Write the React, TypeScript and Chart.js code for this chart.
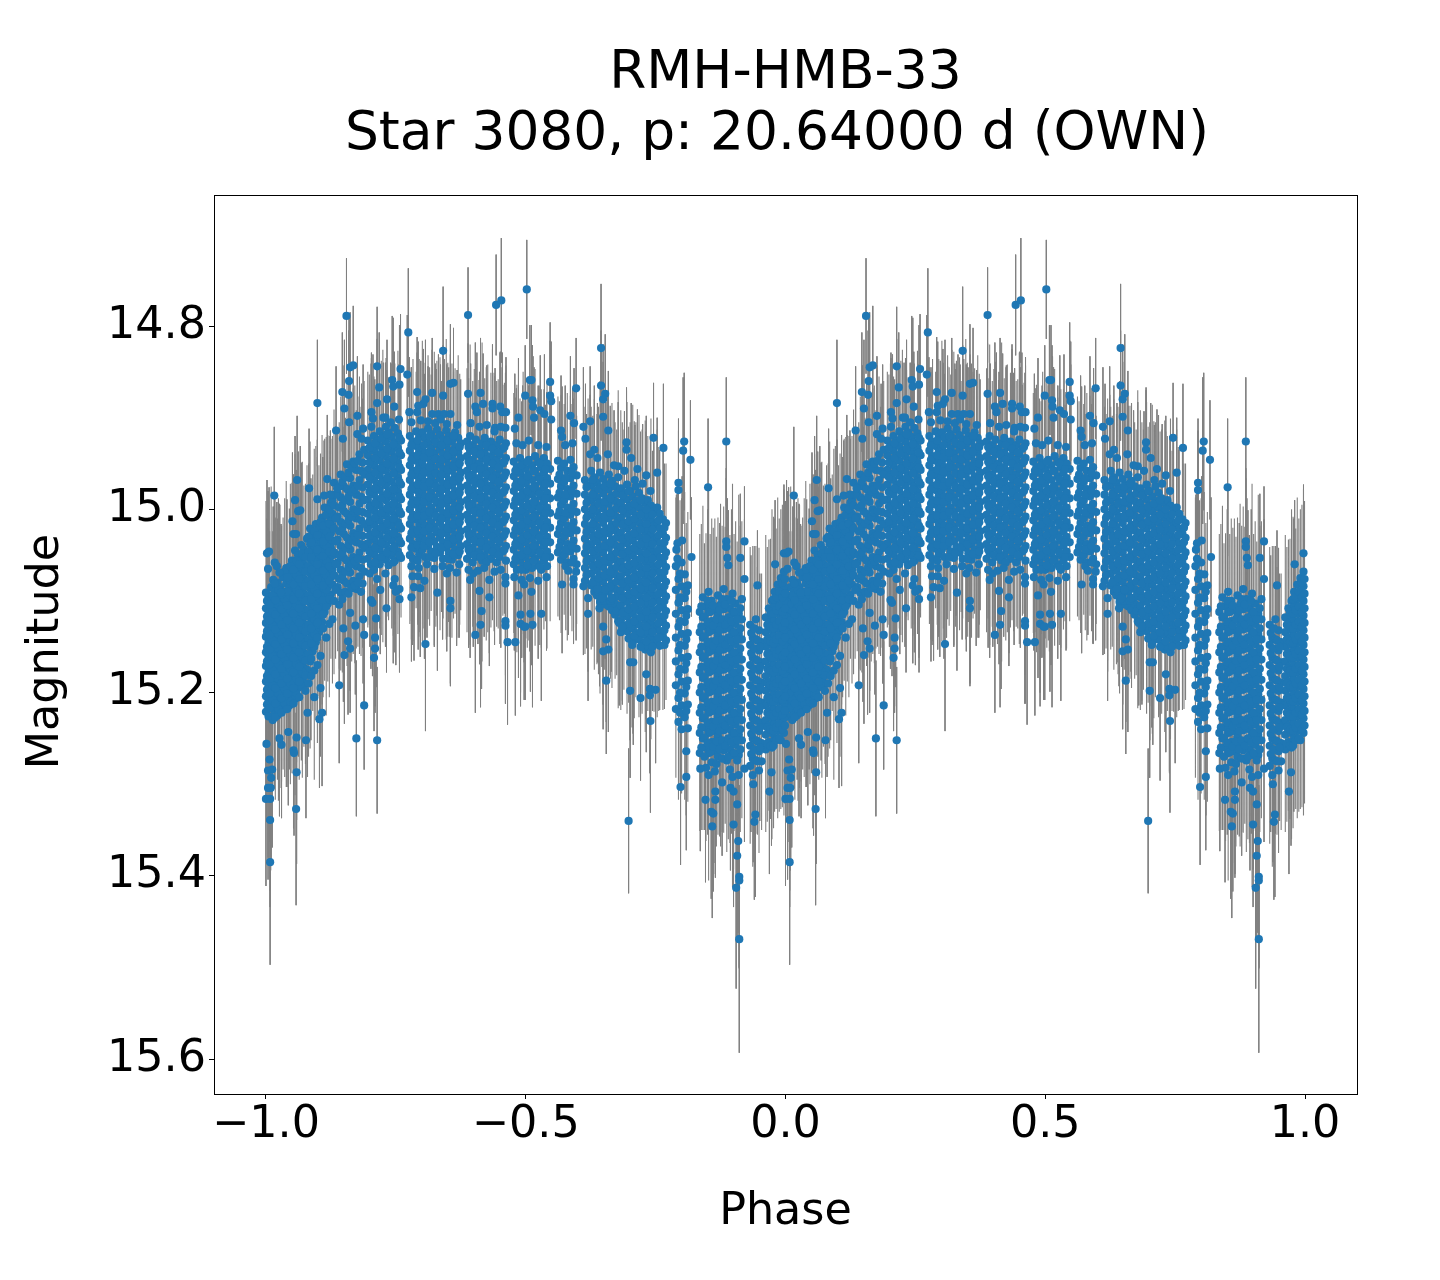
import React, { useEffect, useRef } from "react";
import { Chart, registerables } from "chart.js";

Chart.register(...registerables);

const titleLines = ["RMH-HMB-33", "Star 3080, p: 20.64000 d (OWN) "];
const xLabel = "Phase";
const yLabel = "Magnitude ";
const xTickValues = [-1.0, -0.5, 0.0, 0.5, 1.0];
const yTickValues = [14.8, 15.0, 15.2, 15.4, 15.6];
const foldShifts = [0, 1];

// Rows: [phase, magnitude error, ...magnitudes]
const riseColumns = [
  [-1.0, 0.1, 15.091, 15.108, 15.124, 15.139, 15.156, 15.171, 15.188, 15.204, 15.221],
  [-0.995, 0.075, 15.096, 15.113, 15.129, 15.145, 15.161, 15.178, 15.193, 15.209, 15.226],
  [-0.99, 0.11, 15.085, 15.102, 15.118, 15.134, 15.151, 15.166, 15.182, 15.199, 15.214],
  [-0.984, 0.085, 15.09, 15.107, 15.123, 15.139, 15.155, 15.172, 15.187, 15.203, 15.22],
  [-0.978, 0.07, 15.08, 15.096, 15.112, 15.128, 15.145, 15.16, 15.177, 15.193, 15.209, 15.225],
  [-0.973, 0.09, 15.085, 15.101, 15.117, 15.134, 15.149, 15.166, 15.182, 15.198, 15.214],
  [-0.967, 0.065, 15.074, 15.09, 15.107, 15.123, 15.139, 15.154, 15.171, 15.187, 15.203, 15.219],
  [-0.961, 0.095, 15.064, 15.081, 15.096, 15.112, 15.129, 15.145, 15.16, 15.176, 15.193, 15.208],
  [-0.955, 0.07, 15.069, 15.085, 15.101, 15.118, 15.134, 15.15, 15.165, 15.182, 15.197, 15.214],
  [-0.95, 0.085, 15.056, 15.073, 15.089, 15.106, 15.122, 15.137, 15.154, 15.17, 15.186, 15.203],
  [-0.944, 0.105, 15.045, 15.061, 15.078, 15.094, 15.11, 15.126, 15.142, 15.158, 15.174, 15.19, 15.207],
  [-0.938, 0.075, 15.05, 15.066, 15.083, 15.099, 15.115, 15.131, 15.147, 15.163, 15.179, 15.195],
  [-0.932, 0.09, 15.039, 15.055, 15.071, 15.088, 15.104, 15.12, 15.136, 15.152, 15.168, 15.184],
  [-0.927, 0.07, 15.044, 15.06, 15.076, 15.092, 15.109, 15.125, 15.14, 15.157, 15.173, 15.189],
  [-0.921, 0.08, 15.032, 15.048, 15.065, 15.081, 15.097, 15.113, 15.13, 15.146, 15.162, 15.175],
  [-0.915, 0.095, 15.021, 15.038, 15.054, 15.07, 15.086, 15.102, 15.118, 15.134, 15.15, 15.166],
  [-0.91, 0.065, 15.027, 15.043, 15.059, 15.075, 15.092, 15.108, 15.124, 15.139, 15.155],
  [-0.904, 0.085, 15.016, 15.032, 15.048, 15.064, 15.08, 15.097, 15.113, 15.128, 15.145],
  [-0.898, 0.07, 15.022, 15.038, 15.054, 15.07, 15.086, 15.102, 15.118, 15.134],
  [-0.892, 0.09, 15.009, 15.026, 15.043, 15.059, 15.075, 15.091, 15.107, 15.123],
  [-0.887, 0.075, 14.998, 15.015, 15.031, 15.047, 15.064, 15.08, 15.096, 15.112],
  [-0.881, 0.085, 15.004, 15.02, 15.037, 15.053, 15.069, 15.085, 15.103],
  [-0.875, 0.07, 14.993, 15.01, 15.026, 15.042, 15.058, 15.074, 15.093],
];

const riseFill = [
  [-0.998, 0.09, 15.1, 15.117, 15.133, 15.15, 15.166, 15.182, 15.197, 15.213],
  [-0.987, 0.07, 15.094, 15.111, 15.127, 15.143, 15.16, 15.175, 15.192, 15.208, 15.23],
  [-0.976, 0.1, 15.088, 15.104, 15.12, 15.136, 15.152, 15.169, 15.185, 15.201, 15.218],
  [-0.964, 0.08, 15.068, 15.098, 15.115, 15.131, 15.147, 15.163, 15.18, 15.196, 15.212],
  [-0.953, 0.09, 15.062, 15.078, 15.094, 15.11, 15.126, 15.142, 15.158, 15.174, 15.19, 15.21],
  [-0.941, 0.075, 15.056, 15.072, 15.088, 15.104, 15.12, 15.137, 15.153, 15.169, 15.185, 15.201],
  [-0.93, 0.1, 15.048, 15.064, 15.08, 15.096, 15.113, 15.129, 15.145, 15.161, 15.177, 15.193],
  [-0.918, 0.08, 15.03, 15.046, 15.062, 15.078, 15.094, 15.11, 15.126, 15.142, 15.158, 15.19],
  [-0.907, 0.09, 15.024, 15.04, 15.056, 15.072, 15.088, 15.104, 15.12, 15.136, 15.15, 15.176, 15.205],
  [-0.895, 0.075, 15.014, 15.03, 15.046, 15.062, 15.078, 15.094, 15.11, 15.126, 15.16, 15.195],
  [-0.884, 0.085, 15.006, 15.024, 15.04, 15.056, 15.072, 15.088, 15.106, 15.14],
  [-0.872, 0.07, 14.99, 15.005, 15.018, 15.034, 15.05, 15.066, 15.082, 15.12],
];

const riseExtra = [
  [-0.993, 0.08, 15.104, 15.121, 15.137, 15.153, 15.169, 15.185, 15.201, 15.217],
  [-0.982, 0.09, 15.099, 15.115, 15.131, 15.147, 15.164, 15.18, 15.195, 15.212, 15.227],
  [-0.97, 0.075, 15.093, 15.109, 15.126, 15.142, 15.158, 15.174, 15.19, 15.206, 15.222],
  [-0.959, 0.085, 15.074, 15.09, 15.105, 15.121, 15.137, 15.153, 15.169, 15.185, 15.201, 15.218],
  [-0.947, 0.07, 15.066, 15.082, 15.098, 15.114, 15.13, 15.146, 15.162, 15.178, 15.195, 15.212],
  [-0.936, 0.09, 15.06, 15.076, 15.092, 15.108, 15.124, 15.14, 15.156, 15.172, 15.188, 15.205],
  [-0.924, 0.08, 15.052, 15.068, 15.084, 15.1, 15.117, 15.133, 15.149, 15.165, 15.181, 15.198],
  [-0.913, 0.07, 15.036, 15.052, 15.066, 15.082, 15.098, 15.114, 15.13, 15.146, 15.163, 15.182],
  [-0.901, 0.085, 15.028, 15.044, 15.06, 15.076, 15.092, 15.108, 15.124, 15.14, 15.17],
  [-0.89, 0.075, 15.018, 15.035, 15.051, 15.067, 15.083, 15.099, 15.115, 15.13],
  [-0.878, 0.08, 15.0, 15.016, 15.03, 15.046, 15.062, 15.078, 15.098, 15.125],
];

const shoulderColumns = [
  [-0.869, 0.08, 14.971, 14.996, 15.021, 15.047, 15.072, 15.1],
  [-0.862, 0.07, 14.983, 15.008, 15.033, 15.058, 15.085],
  [-0.856, 0.085, 14.962, 14.987, 15.014, 15.04, 15.066, 15.091],
  [-0.85, 0.065, 14.975, 15.002, 15.027, 15.053, 15.078],
  [-0.844, 0.09, 14.951, 14.978, 15.005, 15.031, 15.056, 15.081],
  [-0.838, 0.07, 14.966, 14.992, 15.018, 15.044, 15.069],
  [-0.832, 0.08, 14.948, 14.974, 15.0, 15.026, 15.052, 15.078],
  [-0.826, 0.065, 14.957, 14.984, 15.01, 15.036, 15.062, 15.087],
  [-0.82, 0.085, 14.94, 14.968, 14.994, 15.021, 15.047, 15.073],
  [-0.814, 0.07, 14.949, 14.976, 15.003, 15.029, 15.055, 15.081],
  [-0.804, 0.075, 14.925, 14.941, 14.957, 14.973, 14.989, 15.005, 15.021, 15.037, 15.054],
  [-0.798, 0.09, 14.931, 14.947, 14.963, 14.98, 14.996, 15.012, 15.028, 15.044, 15.06],
  [-0.792, 0.065, 14.92, 14.936, 14.952, 14.968, 14.984, 15.001, 15.017, 15.033, 15.049, 15.066],
  [-0.787, 0.085, 14.926, 14.942, 14.958, 14.974, 14.99, 15.006, 15.023, 15.039, 15.055],
  [-0.781, 0.07, 14.915, 14.931, 14.947, 14.963, 14.979, 14.996, 15.012, 15.028, 15.044, 15.06],
  [-0.775, 0.095, 14.921, 14.937, 14.953, 14.969, 14.985, 15.002, 15.018, 15.034, 15.05],
  [-0.769, 0.075, 14.91, 14.926, 14.942, 14.958, 14.974, 14.99, 15.007, 15.023, 15.039, 15.055],
  [-0.764, 0.06, 14.916, 14.932, 14.948, 14.964, 14.98, 14.996, 15.012, 15.028, 15.045, 15.061],
  [-0.758, 0.08, 14.921, 14.937, 14.953, 14.97, 14.986, 15.002, 15.018, 15.034, 15.05],
  [-0.752, 0.07, 14.911, 14.927, 14.943, 14.959, 14.975, 14.991, 15.007, 15.024, 15.04, 15.056],
  [-0.746, 0.09, 14.917, 14.933, 14.949, 14.965, 14.981, 14.997, 15.014, 15.03, 15.046],
  [-0.74, 0.065, 14.925, 14.941, 14.957, 14.973, 14.989, 15.005, 15.021, 15.037, 15.053],
];

const shoulderFill = [
  [-0.866, 0.075, 14.984, 15.01, 15.035, 15.06, 15.088],
  [-0.859, 0.07, 14.975, 14.998, 15.024, 15.05, 15.076, 15.104],
  [-0.853, 0.08, 14.97, 14.995, 15.02, 15.047, 15.072, 15.098],
  [-0.847, 0.065, 14.965, 14.99, 15.016, 15.042, 15.068, 15.09],
  [-0.841, 0.07, 14.96, 14.986, 15.012, 15.038, 15.063, 15.092],
  [-0.835, 0.08, 14.955, 14.981, 15.008, 15.034, 15.06, 15.086],
  [-0.829, 0.085, 14.95, 14.978, 15.004, 15.03, 15.057, 15.083],
  [-0.823, 0.07, 14.947, 14.974, 15.002, 15.028, 15.054, 15.08],
  [-0.817, 0.07, 14.958, 14.986, 15.012, 15.038, 15.064, 15.09],
  [-0.811, 0.075, 14.935, 14.962, 14.99, 15.016, 15.042, 15.068],
  [-0.801, 0.08, 14.933, 14.949, 14.965, 14.981, 14.997, 15.013, 15.029, 15.046],
  [-0.79, 0.07, 14.928, 14.944, 14.96, 14.977, 14.993, 15.009, 15.025, 15.042, 15.058],
  [-0.778, 0.085, 14.923, 14.939, 14.955, 14.971, 14.988, 15.004, 15.02, 15.036, 15.052],
  [-0.767, 0.07, 14.918, 14.934, 14.95, 14.966, 14.983, 14.999, 15.015, 15.031, 15.047],
  [-0.755, 0.08, 14.929, 14.945, 14.961, 14.978, 14.994, 15.01, 15.026, 15.042, 15.058],
  [-0.743, 0.065, 14.922, 14.938, 14.954, 14.97, 14.986, 15.002, 15.018, 15.034, 15.05],
];

const crestColumns = [
  [-0.723, 0.075, 14.92, 14.936, 14.952, 14.968, 14.984, 15.0, 15.016, 15.032, 15.05],
  [-0.717, 0.09, 14.926, 14.942, 14.958, 14.974, 14.99, 15.006, 15.022, 15.038, 15.054],
  [-0.711, 0.065, 14.915, 14.931, 14.947, 14.963, 14.979, 14.995, 15.011, 15.027, 15.043],
  [-0.705, 0.085, 14.921, 14.937, 14.953, 14.969, 14.985, 15.001, 15.017, 15.033, 15.049],
  [-0.699, 0.1, 14.916, 14.932, 14.948, 14.964, 14.98, 14.996, 15.012, 15.028, 15.044],
  [-0.694, 0.07, 14.922, 14.938, 14.954, 14.97, 14.986, 15.002, 15.018, 15.034, 15.052],
  [-0.688, 0.08, 14.912, 14.928, 14.944, 14.96, 14.976, 14.992, 15.008, 15.024, 15.04],
  [-0.682, 0.065, 14.918, 14.934, 14.95, 14.966, 14.982, 14.998, 15.014, 15.03, 15.046],
  [-0.676, 0.095, 14.923, 14.939, 14.955, 14.971, 14.987, 15.003, 15.019, 15.035, 15.053],
  [-0.671, 0.075, 14.913, 14.929, 14.945, 14.961, 14.977, 14.993, 15.009, 15.025, 15.041],
  [-0.665, 0.085, 14.919, 14.935, 14.951, 14.967, 14.983, 14.999, 15.015, 15.031, 15.047],
  [-0.659, 0.065, 14.924, 14.94, 14.956, 14.972, 14.988, 15.004, 15.02, 15.036, 15.054],
  [-0.653, 0.1, 14.914, 14.93, 14.946, 14.962, 14.978, 14.994, 15.01, 15.026, 15.042],
  [-0.648, 0.075, 14.92, 14.936, 14.952, 14.968, 14.984, 15.0, 15.016, 15.032, 15.048],
  [-0.642, 0.085, 14.926, 14.942, 14.958, 14.974, 14.99, 15.006, 15.022, 15.038, 15.055],
  [-0.636, 0.07, 14.916, 14.932, 14.948, 14.964, 14.98, 14.996, 15.012, 15.028, 15.044],
  [-0.63, 0.09, 14.922, 14.938, 14.954, 14.97, 14.986, 15.002, 15.018, 15.034, 15.05],
  [-0.625, 0.07, 14.928, 14.944, 14.96, 14.976, 14.992, 15.008, 15.024, 15.04],
  [-0.613, 0.08, 14.926, 14.942, 14.958, 14.974, 14.99, 15.006, 15.022, 15.038, 15.054],
  [-0.607, 0.1, 14.92, 14.936, 14.952, 14.968, 14.984, 15.0, 15.016, 15.032, 15.048],
  [-0.602, 0.07, 14.93, 14.946, 14.962, 14.978, 14.994, 15.01, 15.026, 15.042, 15.058],
  [-0.596, 0.085, 14.924, 14.94, 14.956, 14.972, 14.988, 15.004, 15.02, 15.036, 15.052],
  [-0.59, 0.075, 14.934, 14.95, 14.966, 14.982, 14.998, 15.014, 15.03, 15.046],
  [-0.584, 0.11, 14.928, 14.944, 14.96, 14.976, 14.992, 15.008, 15.024, 15.04, 15.056],
  [-0.579, 0.065, 14.922, 14.938, 14.954, 14.97, 14.986, 15.002, 15.018, 15.034, 15.05],
  [-0.573, 0.09, 14.932, 14.948, 14.964, 14.98, 14.996, 15.012, 15.028, 15.044],
  [-0.567, 0.075, 14.926, 14.942, 14.958, 14.974, 14.99, 15.006, 15.022, 15.038, 15.054],
  [-0.561, 0.085, 14.936, 14.952, 14.968, 14.984, 15.0, 15.016, 15.032, 15.048],
  [-0.556, 0.07, 14.93, 14.946, 14.962, 14.978, 14.994, 15.01, 15.026, 15.042, 15.058],
  [-0.55, 0.095, 14.924, 14.94, 14.956, 14.972, 14.988, 15.004, 15.02, 15.036, 15.052],
  [-0.544, 0.07, 14.934, 14.95, 14.966, 14.982, 14.998, 15.014, 15.03, 15.046],
  [-0.538, 0.085, 14.928, 14.944, 14.96, 14.976, 14.992, 15.008, 15.024, 15.04, 15.056],
];

const crestFill = [
  [-0.72, 0.08, 14.93, 14.946, 14.962, 14.978, 14.994, 15.01, 15.026, 15.042],
  [-0.708, 0.07, 14.925, 14.941, 14.957, 14.973, 14.991, 15.007, 15.023, 15.039, 15.056],
  [-0.696, 0.09, 14.93, 14.943, 14.959, 14.975, 14.992, 15.007, 15.024, 15.04],
  [-0.685, 0.075, 14.92, 14.938, 14.954, 14.971, 14.987, 15.003, 15.02, 15.036, 15.052],
  [-0.673, 0.08, 14.927, 14.945, 14.961, 14.975, 14.991, 15.007, 15.023, 15.048],
  [-0.662, 0.07, 14.93, 14.946, 14.962, 14.978, 14.994, 15.01, 15.026, 15.042],
  [-0.65, 0.085, 14.925, 14.941, 14.957, 14.973, 14.989, 15.005, 15.021, 15.038, 15.054],
  [-0.639, 0.07, 14.92, 14.937, 14.953, 14.969, 14.985, 15.001, 15.017, 15.033, 15.049],
  [-0.627, 0.08, 14.932, 14.95, 14.966, 14.982, 14.998, 15.014, 15.03, 15.046],
  [-0.61, 0.075, 14.932, 14.948, 14.964, 14.98, 14.996, 15.012, 15.028, 15.044],
  [-0.599, 0.09, 14.937, 14.954, 14.97, 14.986, 15.002, 15.018, 15.034, 15.05],
  [-0.587, 0.07, 14.94, 14.956, 14.972, 14.988, 15.004, 15.02, 15.036, 15.052],
  [-0.576, 0.085, 14.93, 14.946, 14.962, 14.978, 14.994, 15.01, 15.026, 15.042, 15.058],
  [-0.564, 0.075, 14.934, 14.95, 14.966, 14.982, 14.998, 15.014, 15.03, 15.046],
  [-0.553, 0.08, 14.938, 14.954, 14.97, 14.986, 15.002, 15.018, 15.034, 15.05],
  [-0.541, 0.07, 14.932, 14.948, 14.964, 14.98, 14.996, 15.012, 15.028, 15.044],
];

const descentColumns = [
  [-0.523, 0.075, 14.948, 14.964, 14.98, 14.996, 15.012, 15.028, 15.044, 15.06],
  [-0.517, 0.09, 14.954, 14.97, 14.986, 15.002, 15.018, 15.034, 15.05, 15.066],
  [-0.511, 0.065, 14.944, 14.96, 14.976, 14.992, 15.008, 15.024, 15.04, 15.056],
  [-0.505, 0.1, 14.95, 14.966, 14.982, 14.998, 15.014, 15.03, 15.046, 15.062],
  [-0.5, 0.075, 14.956, 14.972, 14.988, 15.004, 15.02, 15.036, 15.052, 15.066],
  [-0.494, 0.085, 14.946, 14.962, 14.978, 14.994, 15.01, 15.026, 15.042, 15.058],
  [-0.488, 0.07, 14.952, 14.968, 14.984, 15.0, 15.016, 15.032, 15.048, 15.064],
  [-0.482, 0.095, 14.942, 14.958, 14.974, 14.99, 15.006, 15.022, 15.038, 15.054],
  [-0.476, 0.07, 14.948, 14.964, 14.98, 14.996, 15.012, 15.028, 15.044, 15.06],
  [-0.47, 0.085, 14.954, 14.97, 14.986, 15.002, 15.018, 15.034, 15.05, 15.066],
  [-0.465, 0.075, 14.944, 14.96, 14.976, 14.992, 15.008, 15.024, 15.04, 15.056],
  [-0.459, 0.09, 14.95, 14.966, 14.982, 14.998, 15.014, 15.03, 15.046, 15.062],
  [-0.453, 0.07, 14.956, 14.972, 14.988, 15.004, 15.02, 15.036, 15.052],
  [-0.438, 0.07, 14.947, 14.967, 14.987, 15.007, 15.027, 15.047],
  [-0.432, 0.08, 14.955, 14.975, 14.995, 15.015, 15.035, 15.055],
  [-0.426, 0.065, 14.95, 14.97, 14.99, 15.01, 15.03, 15.05],
  [-0.42, 0.085, 14.958, 14.978, 14.998, 15.018, 15.038, 15.058],
  [-0.414, 0.07, 14.946, 14.966, 14.986, 15.006, 15.026, 15.046],
  [-0.408, 0.075, 14.954, 14.974, 14.994, 15.014, 15.034, 15.054],
  [-0.402, 0.065, 14.963, 14.983, 15.003, 15.023, 15.043, 15.06],
  [-0.386, 0.08, 14.968, 14.984, 15.0, 15.016, 15.032, 15.048, 15.064, 15.078],
  [-0.38, 0.095, 14.974, 14.99, 15.006, 15.022, 15.038, 15.054, 15.07],
  [-0.374, 0.07, 14.958, 14.974, 14.99, 15.006, 15.022, 15.038, 15.054, 15.07, 15.083],
  [-0.368, 0.085, 14.965, 14.981, 14.997, 15.013, 15.029, 15.045, 15.061, 15.077, 15.09],
  [-0.363, 0.075, 14.971, 14.987, 15.003, 15.019, 15.035, 15.051, 15.067, 15.083, 15.094],
  [-0.357, 0.1, 14.96, 14.976, 14.992, 15.008, 15.024, 15.04, 15.056, 15.072, 15.088, 15.101],
  [-0.351, 0.07, 14.967, 14.983, 14.999, 15.015, 15.031, 15.047, 15.063, 15.079, 15.095],
  [-0.345, 0.09, 14.973, 14.989, 15.005, 15.021, 15.037, 15.053, 15.069, 15.085, 15.104],
  [-0.34, 0.075, 14.962, 14.978, 14.994, 15.01, 15.026, 15.042, 15.058, 15.074, 15.09, 15.106],
  [-0.334, 0.085, 14.969, 14.985, 15.001, 15.017, 15.033, 15.049, 15.065, 15.081, 15.097, 15.11],
  [-0.328, 0.07, 14.975, 14.991, 15.007, 15.023, 15.039, 15.055, 15.071, 15.087, 15.103, 15.115],
  [-0.322, 0.095, 14.965, 14.981, 14.997, 15.013, 15.029, 15.045, 15.061, 15.077, 15.093, 15.109, 15.122],
];

const descentFill = [
  [-0.52, 0.08, 14.958, 14.974, 14.99, 15.006, 15.022, 15.038, 15.054],
  [-0.508, 0.07, 14.952, 14.969, 14.985, 15.001, 15.017, 15.033, 15.05, 15.066],
  [-0.497, 0.09, 14.948, 14.964, 14.98, 14.996, 15.012, 15.028, 15.045, 15.061],
  [-0.485, 0.075, 14.958, 14.976, 14.992, 15.008, 15.024, 15.04, 15.056],
  [-0.473, 0.085, 14.95, 14.967, 14.983, 14.999, 15.015, 15.031, 15.047, 15.063],
  [-0.462, 0.07, 14.956, 14.972, 14.988, 15.004, 15.02, 15.036, 15.052],
  [-0.435, 0.08, 14.962, 14.982, 15.002, 15.021, 15.041],
  [-0.423, 0.07, 14.966, 14.984, 15.004, 15.024, 15.044, 15.062],
  [-0.411, 0.075, 14.96, 14.98, 15.0, 15.02, 15.04, 15.058],
  [-0.383, 0.08, 14.976, 14.993, 15.009, 15.025, 15.041, 15.057, 15.072],
  [-0.371, 0.07, 14.968, 14.984, 15.0, 15.016, 15.03, 15.046, 15.062, 15.08],
  [-0.36, 0.09, 14.978, 14.994, 15.01, 15.027, 15.043, 15.059, 15.075, 15.09],
  [-0.348, 0.075, 14.975, 14.992, 15.008, 15.024, 15.04, 15.056, 15.072, 15.088, 15.1],
  [-0.337, 0.085, 14.972, 14.988, 15.004, 15.02, 15.036, 15.052, 15.068, 15.084, 15.1],
  [-0.325, 0.07, 14.983, 14.999, 15.015, 15.031, 15.047, 15.063, 15.079, 15.095, 15.111],
];

const lowerSlopeColumns = [
  [-0.317, 0.085, 14.977, 14.993, 15.009, 15.025, 15.041, 15.057, 15.073, 15.089, 15.105, 15.121, 15.134],
  [-0.311, 0.07, 14.983, 14.999, 15.015, 15.031, 15.047, 15.063, 15.079, 15.095, 15.111, 15.127],
  [-0.305, 0.09, 14.973, 14.989, 15.005, 15.021, 15.037, 15.053, 15.069, 15.085, 15.101, 15.117, 15.133],
  [-0.299, 0.075, 14.98, 14.996, 15.012, 15.028, 15.044, 15.06, 15.076, 15.092, 15.108, 15.124, 15.14],
  [-0.294, 0.1, 14.986, 15.002, 15.018, 15.034, 15.05, 15.066, 15.082, 15.098, 15.114, 15.13, 15.145],
  [-0.288, 0.07, 14.975, 14.991, 15.007, 15.023, 15.039, 15.055, 15.071, 15.087, 15.103, 15.119, 15.135],
  [-0.282, 0.085, 14.982, 14.998, 15.014, 15.03, 15.046, 15.062, 15.078, 15.094, 15.11, 15.126, 15.142],
  [-0.276, 0.075, 14.988, 15.004, 15.02, 15.036, 15.052, 15.068, 15.084, 15.1, 15.116, 15.132, 15.148],
  [-0.27, 0.09, 14.993, 15.009, 15.025, 15.041, 15.057, 15.073, 15.089, 15.105, 15.121, 15.137, 15.153],
  [-0.265, 0.07, 14.99, 15.006, 15.022, 15.038, 15.054, 15.07, 15.086, 15.102, 15.118, 15.134, 15.15],
  [-0.259, 0.095, 14.996, 15.012, 15.028, 15.044, 15.06, 15.076, 15.092, 15.108, 15.124, 15.14, 15.156],
  [-0.253, 0.075, 15.002, 15.018, 15.034, 15.05, 15.066, 15.082, 15.098, 15.114, 15.13, 15.146],
  [-0.247, 0.085, 14.998, 15.014, 15.03, 15.046, 15.062, 15.078, 15.094, 15.11, 15.126, 15.142],
  [-0.242, 0.07, 15.005, 15.021, 15.037, 15.053, 15.069, 15.085, 15.101, 15.117, 15.133, 15.149],
  [-0.236, 0.08, 15.011, 15.027, 15.043, 15.059, 15.075, 15.091, 15.107, 15.123, 15.139],
  [-0.23, 0.065, 15.015, 15.031, 15.047, 15.063, 15.079, 15.095, 15.111, 15.127, 15.143],
];

const lowerSlopeFill = [
  [-0.314, 0.08, 14.985, 15.001, 15.017, 15.033, 15.049, 15.065, 15.081, 15.097, 15.113, 15.129],
  [-0.302, 0.07, 14.98, 14.997, 15.013, 15.029, 15.045, 15.061, 15.077, 15.093, 15.109, 15.125, 15.141],
  [-0.291, 0.09, 14.994, 15.01, 15.026, 15.042, 15.058, 15.074, 15.09, 15.106, 15.122, 15.138],
  [-0.279, 0.075, 14.99, 15.006, 15.022, 15.038, 15.054, 15.07, 15.086, 15.102, 15.118, 15.134, 15.15],
  [-0.268, 0.085, 15.0, 15.016, 15.032, 15.048, 15.064, 15.08, 15.096, 15.112, 15.128, 15.144],
  [-0.256, 0.07, 15.006, 15.022, 15.038, 15.054, 15.07, 15.086, 15.102, 15.118, 15.134, 15.15],
  [-0.244, 0.08, 15.012, 15.028, 15.044, 15.06, 15.076, 15.092, 15.108, 15.124, 15.14],
  [-0.233, 0.07, 15.02, 15.036, 15.052, 15.068, 15.084, 15.1, 15.116, 15.132, 15.148],
];

const minimumColumns = [
  [-0.211, 0.075, 15.062, 15.088, 15.114, 15.14, 15.166, 15.192, 15.218],
  [-0.206, 0.085, 15.076, 15.102, 15.128, 15.154, 15.18, 15.206, 15.232],
  [-0.2, 0.07, 15.058, 15.084, 15.11, 15.136, 15.162, 15.188, 15.214, 15.24],
  [-0.194, 0.09, 15.071, 15.097, 15.123, 15.149, 15.175, 15.201, 15.227],
  [-0.188, 0.08, 15.083, 15.109, 15.135, 15.161, 15.187, 15.213, 15.239],
  [-0.165, 0.085, 15.112, 15.134, 15.156, 15.178, 15.2, 15.222, 15.244, 15.266],
  [-0.159, 0.1, 15.096, 15.118, 15.14, 15.162, 15.184, 15.206, 15.228, 15.25],
  [-0.153, 0.08, 15.106, 15.128, 15.15, 15.172, 15.194, 15.216, 15.238, 15.26, 15.282],
  [-0.148, 0.115, 15.09, 15.112, 15.134, 15.156, 15.178, 15.2, 15.222, 15.244, 15.266, 15.29],
  [-0.142, 0.09, 15.1, 15.122, 15.144, 15.166, 15.188, 15.21, 15.232, 15.254, 15.276],
  [-0.136, 0.1, 15.11, 15.132, 15.154, 15.176, 15.198, 15.22, 15.242, 15.264, 15.286],
  [-0.13, 0.085, 15.094, 15.116, 15.138, 15.16, 15.182, 15.204, 15.226, 15.248, 15.27],
  [-0.125, 0.11, 15.104, 15.126, 15.148, 15.17, 15.192, 15.214, 15.236, 15.258],
  [-0.119, 0.09, 15.087, 15.109, 15.131, 15.153, 15.175, 15.197, 15.219, 15.241, 15.263],
  [-0.113, 0.1, 15.098, 15.12, 15.142, 15.164, 15.186, 15.208, 15.23, 15.252, 15.274],
  [-0.107, 0.08, 15.108, 15.13, 15.152, 15.174, 15.196, 15.218, 15.24, 15.262, 15.284],
  [-0.102, 0.12, 15.092, 15.114, 15.136, 15.158, 15.18, 15.202, 15.224, 15.246, 15.268, 15.292],
  [-0.096, 0.09, 15.103, 15.125, 15.147, 15.169, 15.191, 15.213, 15.235, 15.257],
  [-0.09, 0.13, 15.114, 15.136, 15.158, 15.18, 15.202, 15.224, 15.246, 15.268, 15.29],
  [-0.084, 0.085, 15.098, 15.12, 15.142, 15.164, 15.186, 15.208, 15.23, 15.252],
  [-0.068, 0.085, 15.126, 15.148, 15.17, 15.192, 15.214, 15.236, 15.258, 15.28],
  [-0.063, 0.1, 15.14, 15.162, 15.184, 15.206, 15.228, 15.25, 15.272, 15.29],
  [-0.057, 0.08, 15.12, 15.142, 15.164, 15.186, 15.208, 15.23, 15.252, 15.274],
  [-0.051, 0.09, 15.132, 15.154, 15.176, 15.198, 15.22, 15.242, 15.264, 15.285],
  [-0.046, 0.075, 15.145, 15.167, 15.189, 15.211, 15.233, 15.255, 15.275],
  [-0.038, 0.09, 15.118, 15.134, 15.15, 15.166, 15.182, 15.198, 15.214, 15.23, 15.246, 15.262],
  [-0.032, 0.075, 15.108, 15.124, 15.14, 15.156, 15.172, 15.188, 15.204, 15.22, 15.236, 15.254],
  [-0.026, 0.1, 15.1, 15.116, 15.132, 15.148, 15.164, 15.18, 15.196, 15.212, 15.228, 15.244, 15.26],
  [-0.021, 0.08, 15.09, 15.106, 15.122, 15.138, 15.154, 15.17, 15.186, 15.202, 15.218, 15.234, 15.25],
  [-0.015, 0.095, 15.082, 15.098, 15.114, 15.13, 15.146, 15.162, 15.178, 15.194, 15.21, 15.226, 15.242],
  [-0.009, 0.075, 15.075, 15.091, 15.107, 15.123, 15.139, 15.155, 15.171, 15.187, 15.203, 15.219, 15.235, 15.252],
  [-0.003, 0.09, 15.068, 15.084, 15.1, 15.116, 15.132, 15.148, 15.164, 15.18, 15.196, 15.212, 15.228, 15.244],
];

const minimumFill = [
  [-0.203, 0.08, 15.07, 15.096, 15.122, 15.148, 15.174, 15.2, 15.222],
  [-0.191, 0.075, 15.09, 15.116, 15.142, 15.168, 15.194, 15.22],
  [-0.162, 0.09, 15.106, 15.128, 15.15, 15.172, 15.194, 15.216, 15.238, 15.26],
  [-0.156, 0.08, 15.117, 15.139, 15.161, 15.183, 15.205, 15.227, 15.249, 15.27],
  [-0.15, 0.1, 15.1, 15.123, 15.145, 15.167, 15.189, 15.211, 15.233, 15.255],
  [-0.145, 0.085, 15.112, 15.133, 15.155, 15.177, 15.199, 15.221, 15.243, 15.265],
  [-0.139, 0.085, 15.105, 15.127, 15.149, 15.171, 15.193, 15.215, 15.237, 15.259],
  [-0.133, 0.09, 15.12, 15.143, 15.165, 15.187, 15.209, 15.231, 15.253, 15.278],
  [-0.127, 0.095, 15.11, 15.132, 15.154, 15.176, 15.198, 15.22, 15.242, 15.262],
  [-0.122, 0.08, 15.098, 15.12, 15.142, 15.164, 15.186, 15.208, 15.23, 15.252, 15.272],
  [-0.116, 0.085, 15.104, 15.126, 15.148, 15.17, 15.192, 15.214, 15.236, 15.258],
  [-0.11, 0.09, 15.118, 15.14, 15.162, 15.184, 15.206, 15.228, 15.25, 15.27],
  [-0.104, 0.1, 15.1, 15.122, 15.144, 15.166, 15.188, 15.21, 15.232, 15.254],
  [-0.099, 0.085, 15.112, 15.134, 15.156, 15.178, 15.2, 15.222, 15.244, 15.266],
  [-0.093, 0.085, 15.12, 15.142, 15.164, 15.186, 15.208, 15.23, 15.252, 15.274],
  [-0.087, 0.09, 15.108, 15.13, 15.152, 15.174, 15.196, 15.218, 15.24, 15.262],
  [-0.066, 0.085, 15.135, 15.157, 15.179, 15.201, 15.223, 15.245, 15.267],
  [-0.06, 0.09, 15.13, 15.152, 15.174, 15.196, 15.218, 15.24, 15.262],
  [-0.054, 0.08, 15.143, 15.165, 15.187, 15.209, 15.231, 15.253, 15.275],
  [-0.049, 0.08, 15.15, 15.172, 15.194, 15.216, 15.238, 15.26],
  [-0.035, 0.085, 15.126, 15.142, 15.158, 15.174, 15.19, 15.206, 15.222, 15.238, 15.256],
  [-0.029, 0.08, 15.112, 15.128, 15.144, 15.16, 15.176, 15.192, 15.208, 15.224, 15.24, 15.258],
  [-0.023, 0.09, 15.098, 15.114, 15.13, 15.146, 15.162, 15.178, 15.194, 15.21, 15.226, 15.242, 15.258],
  [-0.018, 0.075, 15.096, 15.11, 15.126, 15.142, 15.158, 15.174, 15.19, 15.206, 15.222, 15.238, 15.252],
  [-0.012, 0.08, 15.09, 15.106, 15.122, 15.138, 15.154, 15.17, 15.186, 15.202, 15.218, 15.234, 15.25],
  [-0.006, 0.085, 15.08, 15.096, 15.112, 15.128, 15.144, 15.16, 15.176, 15.192, 15.208, 15.224, 15.24],
  [-0.001, 0.085, 15.076, 15.092, 15.108, 15.124, 15.14, 15.156, 15.172, 15.188, 15.204, 15.22, 15.236],
];

// Rows: [phase, magnitude error, magnitude]
const brightOutliers = [
  [-0.845, 0.063, 14.789], [-0.901, 0.069, 14.884], [-0.838, 0.06, 14.845], [-0.832, 0.065, 14.843], [-0.84, 0.07, 14.86],
  [-0.853, 0.065, 14.872], [-0.841, 0.07, 14.875], [-0.849, 0.075, 14.89], [-0.84, 0.06, 14.905], [-0.865, 0.07, 14.914],
  [-0.852, 0.08, 14.923], [-0.824, 0.065, 14.898], [-0.813, 0.07, 14.912], [-0.824, 0.075, 14.918], [-0.816, 0.06, 14.923],
  [-0.797, 0.065, 14.894], [-0.794, 0.07, 14.901], [-0.797, 0.075, 14.91], [-0.774, 0.06, 14.9], [-0.786, 0.065, 14.844],
  [-0.782, 0.06, 14.867], [-0.786, 0.07, 14.884], [-0.767, 0.065, 14.88], [-0.757, 0.07, 14.859], [-0.755, 0.075, 14.866],
  [-0.726, 0.07, 14.807], [-0.659, 0.07, 14.827], [-0.611, 0.052, 14.788], [-0.557, 0.055, 14.777], [-0.547, 0.068, 14.772],
  [-0.498, 0.054, 14.76], [-0.741, 0.06, 14.847], [-0.728, 0.065, 14.853], [-0.743, 0.065, 14.864], [-0.709, 0.06, 14.872],
  [-0.68, 0.06, 14.873], [-0.659, 0.055, 14.876], [-0.645, 0.065, 14.863], [-0.639, 0.06, 14.862], [-0.611, 0.055, 14.874],
  [-0.587, 0.06, 14.873], [-0.582, 0.055, 14.885], [-0.693, 0.065, 14.88], [-0.697, 0.06, 14.885], [-0.707, 0.07, 14.887],
  [-0.709, 0.065, 14.894], [-0.724, 0.06, 14.894], [-0.753, 0.06, 14.888], [-0.68, 0.07, 14.896], [-0.668, 0.065, 14.896],
  [-0.657, 0.06, 14.896], [-0.645, 0.065, 14.896], [-0.597, 0.07, 14.888], [-0.594, 0.065, 14.894], [-0.564, 0.06, 14.885],
  [-0.564, 0.07, 14.89], [-0.549, 0.06, 14.888], [-0.545, 0.065, 14.894], [-0.538, 0.06, 14.894], [-0.501, 0.055, 14.876],
  [-0.492, 0.06, 14.859], [-0.514, 0.065, 14.9], [-0.521, 0.06, 14.912], [-0.559, 0.065, 14.911], [-0.539, 0.06, 14.911],
  [-0.355, 0.07, 14.824], [-0.489, 0.06, 14.859], [-0.453, 0.065, 14.861], [-0.403, 0.055, 14.868], [-0.355, 0.06, 14.865],
  [-0.347, 0.065, 14.874], [-0.351, 0.06, 14.88], [-0.453, 0.06, 14.876], [-0.451, 0.065, 14.882], [-0.487, 0.06, 14.881],
  [-0.486, 0.055, 14.888], [-0.472, 0.06, 14.892], [-0.464, 0.065, 14.896], [-0.484, 0.055, 14.9], [-0.451, 0.06, 14.902],
  [-0.414, 0.065, 14.898], [-0.407, 0.06, 14.906], [-0.432, 0.06, 14.914], [-0.43, 0.055, 14.921], [-0.376, 0.06, 14.904],
  [-0.389, 0.065, 14.91], [-0.385, 0.06, 14.923], [-0.368, 0.07, 14.935], [-0.351, 0.06, 14.899], [-0.341, 0.065, 14.914],
  [-0.254, 0.06, 14.922], [-0.235, 0.07, 14.933], [-0.306, 0.06, 14.927], [-0.306, 0.065, 14.935], [-0.297, 0.06, 14.944],
  [-0.285, 0.065, 14.956], [-0.322, 0.07, 14.953], [-0.247, 0.06, 14.96], [-0.268, 0.065, 14.963], [-0.195, 0.075, 14.926],
  [-0.197, 0.08, 14.936], [-0.183, 0.065, 14.946], [-0.114, 0.07, 14.926], [-0.149, 0.075, 14.976], [-0.206, 0.07, 14.971],
  [-0.206, 0.065, 14.979], [-0.114, 0.08, 15.035], [-0.114, 0.075, 15.041], [-0.079, 0.06, 15.035], [-0.112, 0.065, 15.053],
  [-0.087, 0.07, 15.053], [-0.11, 0.06, 15.061], [-0.02, 0.07, 15.06], [-0.054, 0.06, 15.083], [-0.079, 0.065, 15.076],
  [-0.003, 0.075, 15.048], [-0.199, 0.07, 15.034], [-0.208, 0.065, 15.037], [-0.21, 0.06, 15.044], [-0.181, 0.065, 15.052],
  [-0.208, 0.07, 15.054], [-0.984, 0.075, 14.985], [-0.94, 0.07, 14.968], [-0.917, 0.065, 14.977], [-0.882, 0.07, 14.967],
  [-0.944, 0.07, 14.99], [-0.901, 0.065, 14.989], [-0.888, 0.06, 14.985], [-0.876, 0.07, 14.984], [-0.863, 0.065, 14.977],
  [-0.938, 0.065, 15.002], [-0.934, 0.07, 15.001], [-0.949, 0.075, 15.013], [-0.947, 0.065, 15.027], [-0.942, 0.07, 15.027],
  [-0.998, 0.08, 15.048], [-0.994, 0.07, 15.046], [-0.983, 0.075, 15.058], [-0.996, 0.085, 15.065], [-0.979, 0.07, 15.062],
  [-0.974, 0.075, 15.069], [-0.986, 0.08, 15.077], [-0.983, 0.07, 15.081], [-0.971, 0.075, 15.091],
  [-0.72, 0.06, 14.905], [-0.702, 0.065, 14.903], [-0.688, 0.06, 14.904], [-0.674, 0.065, 14.906], [-0.664, 0.06, 14.902],
  [-0.652, 0.065, 14.907], [-0.632, 0.06, 14.908], [-0.606, 0.065, 14.906], [-0.589, 0.06, 14.91], [-0.575, 0.065, 14.908],
  [-0.56, 0.06, 14.915], [-0.548, 0.065, 14.91], [-0.77, 0.06, 14.9], [-0.76, 0.065, 14.905], [-0.744, 0.06, 14.902],
  [-0.518, 0.06, 14.928], [-0.506, 0.065, 14.93], [-0.494, 0.06, 14.925], [-0.476, 0.065, 14.93], [-0.46, 0.06, 14.932],
  [-0.424, 0.065, 14.93], [-0.41, 0.06, 14.928], [-0.376, 0.065, 14.94], [-0.362, 0.06, 14.944], [-0.342, 0.065, 14.94],
  [-0.33, 0.06, 14.952], [-0.31, 0.065, 14.958], [-0.29, 0.06, 14.968], [-0.275, 0.065, 14.972], [-0.26, 0.06, 14.98],
];

const faintOutliers = [
  [-0.202, 0.085, 15.303], [-0.191, 0.08, 15.292], [-0.191, 0.07, 15.264], [-0.164, 0.09, 15.283], [-0.154, 0.09, 15.317],
  [-0.143, 0.095, 15.33], [-0.139, 0.085, 15.332], [-0.141, 0.1, 15.346], [-0.135, 0.09, 15.308], [-0.135, 0.085, 15.317],
  [-0.122, 0.08, 15.298], [-0.106, 0.09, 15.304], [-0.1, 0.085, 15.308], [-0.093, 0.095, 15.322], [-0.1, 0.09, 15.344],
  [-0.091, 0.1, 15.362], [-0.093, 0.09, 15.378], [-0.089, 0.1, 15.401], [-0.089, 0.095, 15.405], [-0.095, 0.11, 15.413],
  [-0.089, 0.124, 15.469], [-0.079, 0.08, 15.283], [-0.062, 0.085, 15.3], [-0.058, 0.09, 15.333], [-0.06, 0.085, 15.341],
  [-0.027, 0.08, 15.287], [-0.031, 0.09, 15.308], [-0.811, 0.07, 15.214], [-0.826, 0.085, 15.25], [-0.786, 0.08, 15.252],
  [-0.993, 0.09, 15.273], [-0.996, 0.095, 15.285], [-0.988, 0.085, 15.284], [-0.99, 0.09, 15.293], [-0.996, 0.1, 15.304],
  [-0.991, 0.09, 15.304], [-1.0, 0.095, 15.316], [-0.992, 0.1, 15.316], [-0.992, 0.095, 15.339], [-0.992, 0.112, 15.385],
  [-0.942, 0.105, 15.327], [-0.941, 0.1, 15.287], [-0.947, 0.085, 15.263], [-0.946, 0.09, 15.266], [-0.923, 0.085, 15.252],
  [-0.999, 0.085, 15.256], [-0.97, 0.08, 15.257], [-0.941, 0.09, 15.249], [-0.957, 0.08, 15.243], [-0.974, 0.085, 15.25],
  [-0.897, 0.075, 15.229], [-0.892, 0.08, 15.222], [-0.92, 0.07, 15.222], [-0.859, 0.085, 15.192], [-0.811, 0.08, 15.137],
  [-0.79, 0.075, 15.14], [-0.79, 0.07, 15.152], [-0.792, 0.08, 15.162], [-0.838, 0.085, 15.113], [-0.813, 0.07, 15.12],
  [-0.828, 0.075, 15.127], [-0.842, 0.08, 15.144], [-0.838, 0.07, 15.152], [-0.849, 0.075, 15.159], [-0.851, 0.08, 15.13],
  [-0.788, 0.075, 15.119], [-0.768, 0.07, 15.108], [-0.795, 0.08, 15.102], [-0.798, 0.075, 15.099], [-0.78, 0.07, 15.088],
  [-0.743, 0.08, 15.098], [-0.72, 0.07, 15.096], [-0.693, 0.095, 15.147], [-0.67, 0.085, 15.091], [-0.645, 0.09, 15.1],
  [-0.645, 0.085, 15.108], [-0.589, 0.08, 15.089], [-0.57, 0.075, 15.096], [-0.57, 0.08, 15.077], [-0.585, 0.085, 15.111],
  [-0.587, 0.09, 15.126], [-0.597, 0.085, 15.137], [-0.539, 0.09, 15.122], [-0.539, 0.085, 15.127], [-0.535, 0.09, 15.145],
  [-0.52, 0.08, 15.145], [-0.514, 0.09, 15.094], [-0.51, 0.085, 15.115], [-0.51, 0.09, 15.125], [-0.503, 0.08, 15.128],
  [-0.503, 0.085, 15.082], [-0.539, 0.1, 15.081], [-0.539, 0.09, 15.074], [-0.607, 0.085, 15.077], [-0.601, 0.08, 15.07],
  [-0.752, 0.08, 15.076], [-0.755, 0.085, 15.083], [-0.743, 0.075, 15.087], [-0.75, 0.08, 15.09], [-0.718, 0.075, 15.073],
  [-0.707, 0.08, 15.073], [-0.695, 0.085, 15.078], [-0.715, 0.08, 15.085], [-0.703, 0.075, 15.086], [-0.652, 0.085, 15.07],
  [-0.633, 0.08, 15.069], [-0.43, 0.075, 15.082], [-0.418, 0.07, 15.067], [-0.403, 0.075, 15.068], [-0.408, 0.07, 15.076],
  [-0.408, 0.065, 15.082], [-0.491, 0.085, 15.114], [-0.47, 0.095, 15.114], [-0.487, 0.09, 15.126], [-0.501, 0.08, 15.128],
  [-0.489, 0.08, 15.09], [-0.389, 0.075, 15.084], [-0.38, 0.08, 15.097], [-0.38, 0.095, 15.114], [-0.362, 0.08, 15.087],
  [-0.353, 0.075, 15.097], [-0.335, 0.08, 15.097], [-0.358, 0.085, 15.108], [-0.347, 0.075, 15.088], [-0.351, 0.085, 15.128],
  [-0.345, 0.09, 15.142], [-0.351, 0.085, 15.155], [-0.341, 0.09, 15.153], [-0.345, 0.08, 15.187], [-0.32, 0.09, 15.124],
  [-0.314, 0.085, 15.128], [-0.295, 0.09, 15.148], [-0.299, 0.085, 15.167], [-0.293, 0.09, 15.167], [-0.299, 0.095, 15.198],
  [-0.279, 0.09, 15.206], [-0.26, 0.1, 15.231], [-0.268, 0.085, 15.18], [-0.261, 0.09, 15.196], [-0.261, 0.085, 15.203],
  [-0.25, 0.08, 15.197], [-0.302, 0.079, 15.34],
  [-0.72, 0.08, 15.062], [-0.706, 0.075, 15.064], [-0.69, 0.08, 15.06], [-0.676, 0.085, 15.065], [-0.66, 0.08, 15.062],
  [-0.646, 0.075, 15.064], [-0.628, 0.08, 15.06], [-0.61, 0.085, 15.066], [-0.592, 0.08, 15.067], [-0.58, 0.075, 15.064],
  [-0.56, 0.08, 15.068], [-0.548, 0.085, 15.066], [-0.522, 0.08, 15.074], [-0.508, 0.085, 15.077], [-0.492, 0.08, 15.075],
  [-0.476, 0.085, 15.078], [-0.46, 0.08, 15.074], [-0.8, 0.08, 15.07], [-0.786, 0.075, 15.076], [-0.77, 0.08, 15.07],
];

const columnSets = [
  riseColumns, riseFill, riseExtra, shoulderColumns, shoulderFill, crestColumns, crestFill,
  descentColumns, descentFill, lowerSlopeColumns, lowerSlopeFill, minimumColumns, minimumFill,
];
const outlierSets = [brightOutliers, faintOutliers];

function pointsOf(rows: number[][]) {
  const out: { x: number; y: number; e: number }[] = [];
  for (const shift of foldShifts) {
    for (const row of rows) {
      const [p, e, ...mags] = row;
      for (const m of mags) out.push({ x: p + shift, y: m, e });
    }
  }
  return out;
}

function barsOf(points: { x: number; y: number; e: number }[]) {
  const out: { x: number; y: number | null }[] = [];
  for (const pt of points) {
    out.push({ x: pt.x, y: pt.y - pt.e }, { x: pt.x, y: pt.y + pt.e }, { x: pt.x, y: null });
  }
  return out;
}

const frame = {
  id: "frame",
  afterDraw(chart: any) {
    const { ctx, chartArea: a } = chart;
    ctx.save();
    ctx.strokeStyle = "#000";
    ctx.lineWidth = 1;
    ctx.strokeRect(Math.round(a.left) + 0.5, Math.round(a.top) + 0.5, Math.round(a.width), Math.round(a.height));
    ctx.restore();
  },
};

const FONT = "'DejaVu Sans'";

export default function App() {
  const ref = useRef<HTMLCanvasElement>(null);
  useEffect(() => {
    const corePts = columnSets.flatMap(pointsOf);
    const outPts = outlierSets.flatMap(pointsOf);
    const barStyle = { type: "scatter", showLine: true, spanGaps: false, pointRadius: 0, borderColor: "#808080", backgroundColor: "#808080", order: 2 };
    const chart = new Chart(ref.current!, {
      type: "scatter",
      data: {
        datasets: [
          { ...barStyle, label: "core errors", data: barsOf(corePts), borderWidth: 1.1 },
          { ...barStyle, label: "outlier errors", data: barsOf(outPts), borderWidth: 1 },
          { label: "Magnitude", data: [...corePts, ...outPts], pointRadius: 4.1, pointBorderWidth: 0, pointBackgroundColor: "#1f77b4", showLine: false, order: 1 },
        ] as any,
      },
      options: {
        responsive: false,
        animation: false,
        events: [],
        layout: { padding: { left: 0, right: 83, top: 0, bottom: 0 } },
        plugins: {
          legend: { display: false },
          tooltip: { enabled: false },
          title: {
            display: true,
            text: titleLines,
            fullSize: false,
            color: "#000",
            font: { family: FONT, size: 53.4, weight: "normal", lineHeight: 61 / 53.4 },
            padding: { top: 44, bottom: 29 },
          },
        },
        scales: {
          x: {
            type: "linear",
            min: -1.1,
            max: 1.1,
            afterBuildTicks: (s: any) => { s.ticks = xTickValues.map((value) => ({ value })); },
            afterFit: (s: any) => { s.height = 186; },
            grid: { drawOnChartArea: false, tickColor: "#000", tickLength: 5 },
            border: { color: "#000" },
            ticks: {
              color: "#000",
              font: { family: FONT, size: 44.44 },
              padding: 0,
              maxRotation: 0,
              autoSkip: false,
              callback: (v: any) => Number(v).toFixed(1).replace("-", "\u2212"),
            },
            title: { display: true, text: xLabel, color: "#000", font: { family: FONT, size: 44.44 }, padding: { top: 0, bottom: 41 } },
          },
          y: {
            type: "linear",
            reverse: true,
            min: 14.657,
            max: 15.638,
            afterBuildTicks: (s: any) => { s.ticks = yTickValues.map((value) => ({ value })); },
            afterFit: (s: any) => { s.width = 214; },
            grid: { drawOnChartArea: false, tickColor: "#000", tickLength: 5 },
            border: { color: "#000" },
            ticks: {
              color: "#000",
              font: { family: FONT, size: 44.44 },
              padding: 3,
              autoSkip: false,
              callback: (v: any) => Number(v).toFixed(1),
            },
            title: { display: true, text: yLabel, color: "#000", font: { family: FONT, size: 44.44 }, padding: { top: 20, bottom: 0 } },
          },
        },
      } as any,
      plugins: [frame],
    });
    return () => chart.destroy();
  }, []);
  return (
    <div style={{ position: "absolute", left: 0, top: 0, width: 1440, height: 1280, background: "#fff" }}>
      <canvas ref={ref} width={1440} height={1280} style={{ display: "block" }} />
    </div>
  );
}
